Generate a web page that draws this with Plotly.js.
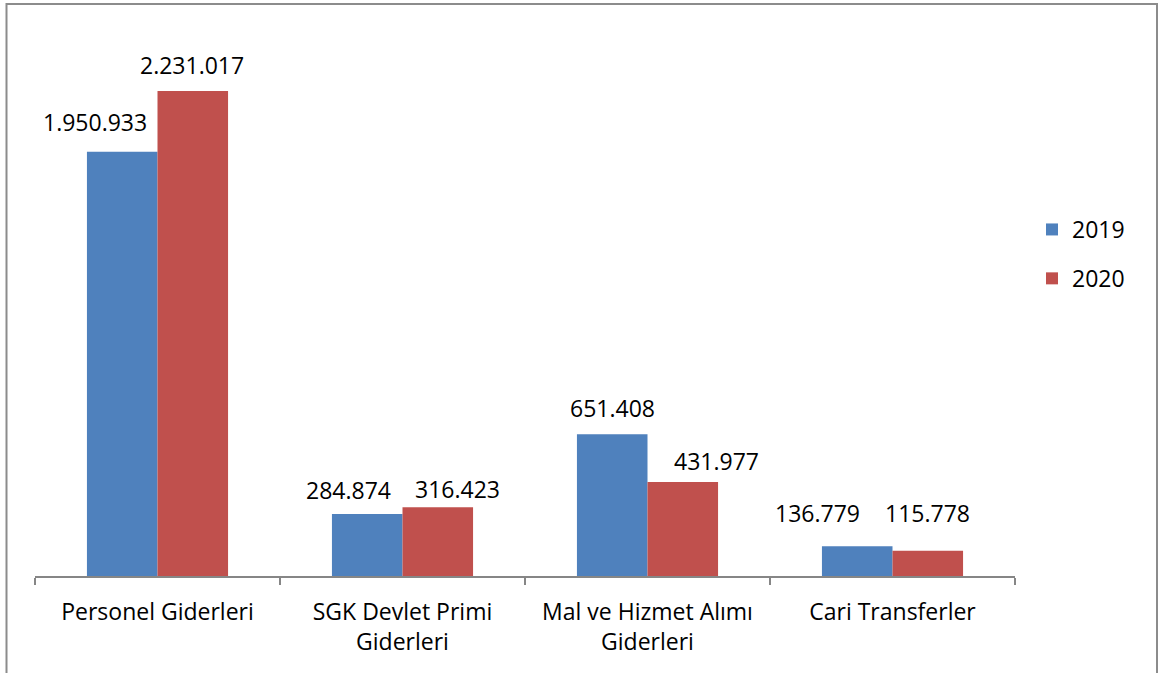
<!DOCTYPE html>
<html>
<head>
<meta charset="utf-8">
<script src="https://cdn.plot.ly/plotly-3.0.1.min.js"></script>
<style>
html,body{margin:0;padding:0;background:#fff;}
#chart{width:1162px;height:673px;}
</style>
</head>
<body>
<div id="chart"></div>
<script>
// ---- data ----
var categories = ["Personel Giderleri", "SGK Devlet Primi<br>Giderleri", "Mal ve Hizmet Alımı<br>Giderleri", "Cari Transferler"];
var seriesNames = ["2019", "2020"];
var values2019 = [1950933, 284874, 651408, 136779];
var values2020 = [2231017, 316423, 431977, 115778];

// ---- label nudges (pixels) to mimic manually placed data labels ----
var nudgeX2019 = [-27, -19, 0, -40];
var nudgeY2019 = [30, 24, 26, 33];
var nudgeX2020 = [-1, 20, 34, 0];
var nudgeY2020 = [26, 18, 21, 38];

var W = 1162, H = 673;
var M = {l: 35, r: 147, t: 30, b: 97};
var plotW = W - M.l - M.r, plotH = H - M.t - M.b;
var bargap = 0.424;
var fontFam = "'Open Sans', 'Noto Sans', sans-serif";
var colors = ["#4F81BD", "#C0504D"];

function fmt(v) {
  return String(v).replace(/\B(?=(\d{3})+(?!\d))/g, ".");
}

var traces = [
  {type: "bar", name: seriesNames[0], x: categories, y: values2019,
   marker: {color: colors[0]}, legendgroup: "a", hoverinfo: "none"},
  {type: "bar", name: seriesNames[1], x: categories, y: values2020,
   marker: {color: colors[1]}, legendgroup: "b", hoverinfo: "none"}
];

// half of a single bar width in pixels, for annotation placement over grouped bars
var catW = plotW / categories.length;
var halfGroup = catW * (1 - bargap) / 2;
var barOff = halfGroup / 2;

var annotations = [];
for (var i = 0; i < categories.length; i++) {
  annotations.push({x: categories[i], y: values2019[i], xref: "x", yref: "y",
    text: fmt(values2019[i]), showarrow: false, xanchor: "center", yanchor: "middle",
    xshift: -barOff + nudgeX2019[i], yshift: nudgeY2019[i],
    font: {family: fontFam, size: 23, color: "#000"}});
  annotations.push({x: categories[i], y: values2020[i], xref: "x", yref: "y",
    text: fmt(values2020[i]), showarrow: false, xanchor: "center", yanchor: "middle",
    xshift: barOff + nudgeX2020[i], yshift: nudgeY2020[i],
    font: {family: fontFam, size: 23, color: "#000"}});
}

// outer frame (pixel -> paper)
function px2paperX(p) { return (p - M.l) / plotW; }
function px2paperY(p) { return (H - M.b - p) / plotH; }
var shapes = [{
  type: "path", xref: "paper", yref: "paper",
  path: "M " + px2paperX(6.5) + " " + px2paperY(700) +
        " L " + px2paperX(6.5) + " " + px2paperY(4) +
        " L " + px2paperX(1157) + " " + px2paperY(4) +
        " L " + px2paperX(1157) + " " + px2paperY(700),
  line: {color: "#8c8c8c", width: 2}
}];

var layout = {
  width: W, height: H,
  margin: M,
  paper_bgcolor: "#fff", plot_bgcolor: "#fff",
  barmode: "group", bargap: bargap, bargroupgap: 0,
  font: {family: fontFam, size: 20, color: "#000"},
  showlegend: true,
  legend: {x: px2paperX(1032), y: px2paperY(254), xanchor: "left", yanchor: "middle",
           xref: "paper", yref: "paper",
           font: {family: fontFam, size: 23, color: "#000"},
           traceorder: "grouped", tracegroupgap: 16, itemwidth: 30, bgcolor: "rgba(0,0,0,0)"},
  xaxis: {type: "category", showline: true, linecolor: "#868686", linewidth: 1.5,
          ticks: "outside", tickson: "boundaries", ticklen: 7, tickcolor: "#868686", tickwidth: 1.5,
          ticklabelstandoff: 15,
          showgrid: false, zeroline: false, fixedrange: true,
          tickfont: {family: fontFam, size: 23, color: "#000"}},
  yaxis: {visible: false, range: [0, 2511000], showgrid: false, zeroline: false, fixedrange: true},
  annotations: annotations,
  shapes: shapes
};

Plotly.newPlot("chart", traces, layout, {staticPlot: true, displayModeBar: false});
</script>
</body>
</html>
